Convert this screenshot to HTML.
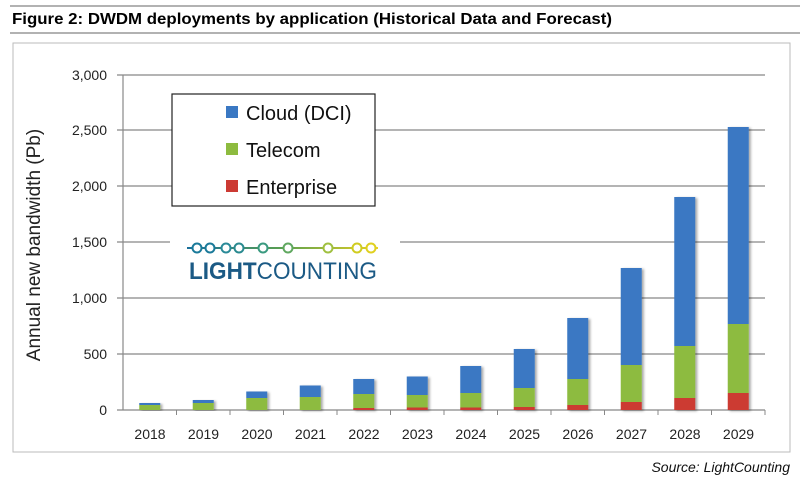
<!DOCTYPE html>
<html><head><meta charset="utf-8"><style>
body{margin:0;background:#fff;}
svg{display:block;font-family:"Liberation Sans",sans-serif;}
</style></head><body>
<svg width="800" height="482" viewBox="0 0 800 482">
<defs>
<linearGradient id="lg" gradientUnits="userSpaceOnUse" x1="187" y1="0" x2="378" y2="0"><stop offset="0" stop-color="#1a6f9a"/><stop offset="0.5" stop-color="#5aa050"/><stop offset="1" stop-color="#e8d020"/></linearGradient>
<filter id="sh" x="-20%" y="-5%" width="150%" height="115%"><feDropShadow dx="2" dy="1" stdDeviation="1.2" flood-color="#000" flood-opacity="0.35"/></filter>
</defs>
<line x1="10" y1="6" x2="800" y2="6" stroke="#999" stroke-width="1.5"/>
<text x="12" y="24" font-size="16" font-weight="bold" fill="#000" textLength="600" lengthAdjust="spacingAndGlyphs">Figure 2: DWDM deployments by application (Historical Data and Forecast)</text>
<line x1="10" y1="33" x2="800" y2="33" stroke="#999" stroke-width="1.5"/>
<rect x="13" y="43" width="777" height="409" fill="#fff" stroke="#bbb" stroke-width="1"/>
<g stroke="#888" stroke-width="1.2">
<line x1="117" y1="75" x2="765" y2="75"/>
<line x1="117" y1="130" x2="765" y2="130"/>
<line x1="117" y1="186" x2="765" y2="186"/>
<line x1="117" y1="242" x2="765" y2="242"/>
<line x1="117" y1="298" x2="765" y2="298"/>
<line x1="117" y1="354" x2="765" y2="354"/>
<line x1="117" y1="410" x2="765" y2="410"/>
<line x1="123" y1="75" x2="123" y2="410"/>
</g>
<g stroke="#888" stroke-width="1">
<line x1="176.5" y1="410" x2="176.5" y2="415"/><line x1="230" y1="410" x2="230" y2="415"/><line x1="283.5" y1="410" x2="283.5" y2="415"/><line x1="337" y1="410" x2="337" y2="415"/><line x1="390.5" y1="410" x2="390.5" y2="415"/><line x1="444" y1="410" x2="444" y2="415"/><line x1="497.5" y1="410" x2="497.5" y2="415"/><line x1="551" y1="410" x2="551" y2="415"/><line x1="604.5" y1="410" x2="604.5" y2="415"/><line x1="658" y1="410" x2="658" y2="415"/><line x1="711.5" y1="410" x2="711.5" y2="415"/><line x1="765" y1="410" x2="765" y2="415"/>
</g>
<g font-size="14" fill="#222" text-anchor="end">
<text x="107" y="80">3,000</text><text x="107" y="135">2,500</text><text x="107" y="191">2,000</text><text x="107" y="247">1,500</text><text x="107" y="303">1,000</text><text x="107" y="359">500</text><text x="107" y="415">0</text>
</g>
<text transform="translate(40,245) rotate(-90)" font-size="19" fill="#222" text-anchor="middle">Annual new bandwidth (Pb)</text>
<rect x="170" y="232" width="230" height="55" fill="#fff"/>
<line x1="187" y1="248" x2="378" y2="248" stroke="url(#lg)" stroke-width="2"/>
<g fill="#fff" stroke-width="2">
<circle cx="197" cy="248" r="4.5" stroke="#1a7a9a"/><circle cx="210" cy="248" r="4.5" stroke="#1a7a9a"/><circle cx="226" cy="248" r="4.5" stroke="#2a8a98"/><circle cx="239" cy="248" r="4.5" stroke="#2a8a90"/><circle cx="263" cy="248" r="4.5" stroke="#3a9a80"/><circle cx="288" cy="248" r="4.5" stroke="#60a860"/><circle cx="328" cy="248" r="4.5" stroke="#a0c040"/><circle cx="357" cy="248" r="4.5" stroke="#d0cc20"/><circle cx="371" cy="248" r="4.5" stroke="#e0d020"/>
</g>
<text x="189" y="279" font-size="24" fill="#1b5a85" textLength="188" lengthAdjust="spacingAndGlyphs"><tspan font-weight="bold">LIGHT</tspan>COUNTING</text>
<rect x="172" y="94" width="203" height="112" fill="#fff" stroke="#222" stroke-width="1.2"/>
<rect x="226" y="106" width="12" height="12" fill="#3a78c3"/>
<rect x="226" y="143" width="12" height="12" fill="#8dbb3f"/>
<rect x="226" y="180" width="12" height="12" fill="#cc3a33"/>
<g font-size="20" fill="#111"><text x="246" y="120">Cloud (DCI)</text><text x="246" y="157">Telecom</text><text x="246" y="194">Enterprise</text></g>
<g id="bars"></g>
<g font-size="14" fill="#222" text-anchor="middle">
<text x="150" y="439">2018</text><text x="203.5" y="439">2019</text><text x="257" y="439">2020</text><text x="310.5" y="439">2021</text><text x="364" y="439">2022</text><text x="417.5" y="439">2023</text><text x="471" y="439">2024</text><text x="524.5" y="439">2025</text><text x="578" y="439">2026</text><text x="631.5" y="439">2027</text><text x="685" y="439">2028</text><text x="738.5" y="439">2029</text>
</g>
<text x="790" y="472" font-size="14" font-style="italic" fill="#111" text-anchor="end">Source: LightCounting</text>
</svg>
<script>
var d=[[403,405,410],[400,403,410],[391.5,398,410],[385.5,397,410],[379,394,408],[376.5,395,407.5],[366,393,407.5],[349,388,407],[318,379,405],[268,365,402],[197,346,398],[127,324,393]];
var g=document.getElementById('bars'),s='';
d.forEach(function(v,i){var c=149.75+53.5*i,x=c-10.5;
s+='<g filter="url(#sh)"><rect x="'+x+'" y="'+v[0]+'" width="21" height="'+(v[1]-v[0])+'" fill="#3a78c3"/>'+
'<rect x="'+x+'" y="'+v[1]+'" width="21" height="'+(v[2]-v[1])+'" fill="#8dbb3f"/>'+
'<rect x="'+x+'" y="'+v[2]+'" width="21" height="'+(410-v[2])+'" fill="#cc3a33"/></g>';});
g.innerHTML=s;
</script>
</body></html>
